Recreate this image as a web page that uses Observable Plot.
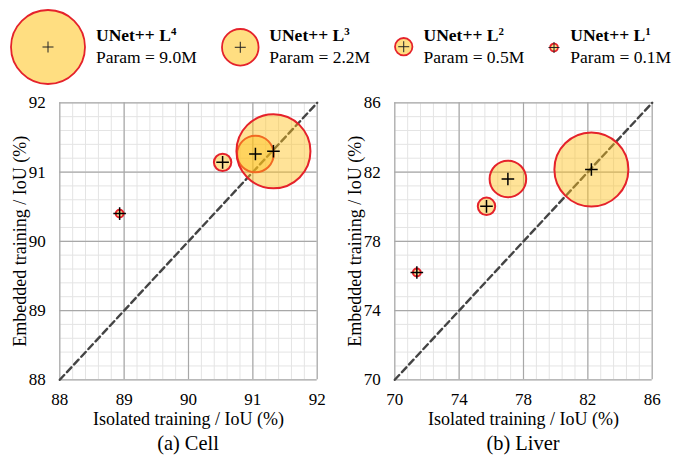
<!DOCTYPE html>
<html><head><meta charset="utf-8">
<script src="https://cdn.jsdelivr.net/npm/d3@7"></script>
<script src="https://cdn.jsdelivr.net/npm/@observablehq/plot@0.6"></script>
<style>
body{margin:0;background:#fff;font-family:"Liberation Serif","Times New Roman",serif;color:#000;overflow:hidden;}
#legend{display:flex;align-items:center;height:87px;padding-top:3px;padding-left:9px;box-sizing:content-box;width:700px;}
.item{display:flex;align-items:center;margin-right:23px;flex-shrink:0;}
.item:last-child{margin-right:0;}
.item svg{display:block;flex-shrink:0;}
.txt{margin-left:10px;font-size:17.5px;line-height:21.6px;white-space:nowrap;flex-shrink:0;}
.txt b sup{font-size:0.62em;vertical-align:0.6em;line-height:0;}
#panels{display:flex;}
.cap{font-size:20.4px;line-height:23px;text-align:center;box-sizing:border-box;}
</style></head><body>
<div id="legend"></div>
<div id="panels"></div>
<script>
// data (legend order)
const models = ["UNet++ L", "UNet++ L", "UNet++ L", "UNet++ L"];
const levels = ["4", "3", "2", "1"];
const params = [9.0, 2.2, 0.5, 0.1];
const paramLabels = ["Param = 9.0M", "Param = 2.2M", "Param = 0.5M", "Param = 0.1M"];
const cellIsolated = [91.32, 91.04, 90.53, 88.93];
const cellEmbedded = [91.30, 91.26, 91.14, 90.40];
const liverIsolated = [82.22, 77.03, 75.70, 71.37];
const liverEmbedded = [82.15, 81.60, 80.02, 76.20];
const cellTicks = [88, 89, 90, 91, 92];
const liverTicks = [70, 74, 78, 82, 86];
const xLabel = "Isolated training / IoU (%)";
const yLabel = "Embedded training / IoU (%)";
const captions = ["(a) Cell", "(b) Liver"];

const FILL = "#FFC21A", FILL_OP = 0.45, RED = "#E5222B";
const rOpts = {type: "sqrt", domain: [0, 9], range: [0, 37]};
const rFn = d3.scaleSqrt().domain(rOpts.domain).range(rOpts.range);
const thinPlus = {draw(ctx, size) {const h = Math.sqrt(size / Math.PI); ctx.moveTo(-h, 0); ctx.lineTo(h, 0); ctx.moveTo(0, -h); ctx.lineTo(0, h);}};
const FONT = "'Liberation Serif', 'Times New Roman', serif";

// legend
const legend = document.getElementById("legend");
params.forEach((p, i) => {
  const r = rFn(p);
  const w = 2 * Math.max(r, 5) + 3;
  const item = document.createElement("div");
  item.className = "item";
  const svg = Plot.plot({
    width: w, height: Math.max(w, 20), margin: 0,
    r: rOpts,
    style: {background: "transparent", overflow: "visible"},
    marks: [
      Plot.dot([p], {r: d => d, frameAnchor: "middle", fill: FILL, fillOpacity: FILL_OP + 0.1, stroke: RED, strokeWidth: 1.8}),
      Plot.dot([p], {r: 5.5, frameAnchor: "middle", symbol: thinPlus, fill: "none", stroke: "#222", strokeWidth: 1})
    ]
  });
  item.appendChild(svg);
  const t = document.createElement("div");
  t.className = "txt";
  t.innerHTML = `<b>${models[i]}<sup>${levels[i]}</sup></b><br>${paramLabels[i]}`;
  item.appendChild(t);
  legend.appendChild(item);
});

function panel(iso, emb, ticks, minorStep, width, mL, mR, caption) {
  const data = params.map((p, i) => ({param: p, x: iso[i], y: emb[i]}));
  const dom = [ticks[0], ticks[ticks.length - 1]];
  const minor = d3.range(dom[0], dom[1] + minorStep / 2, minorStep);
  const MAJ = "#a8a8a8", MIN = "#e4e4e4";
  const fmt = d => String(d);
  const plot = Plot.plot({
    width, height: 342, marginLeft: mL, marginRight: mR, marginTop: 12.3, marginBottom: 52.7,
    style: {fontFamily: FONT, fontSize: "17px", color: "#000", background: "#fff", overflow: "visible"},
    x: {domain: dom},
    y: {domain: dom},
    r: rOpts,
    marks: [
      Plot.gridX(minor, {stroke: MIN, strokeOpacity: 1, strokeWidth: 1}),
      Plot.gridY(minor, {stroke: MIN, strokeOpacity: 1, strokeWidth: 1}),
      Plot.gridX(ticks, {stroke: MAJ, strokeOpacity: 1, strokeWidth: 1.2}),
      Plot.gridY(ticks, {stroke: MAJ, strokeOpacity: 1, strokeWidth: 1.2}),
      Plot.axisX({ticks, tickFormat: fmt, tickSize: 0, tickPadding: 12.8, fontSize: 17, label: null}),
      Plot.axisY({ticks, tickFormat: fmt, tickSize: 0, tickPadding: 14, fontSize: 17, label: null}),
      Plot.axisX({ticks: [], tickSize: 0, fontSize: 18, label: xLabel, labelAnchor: "center", labelOffset: 45, labelArrow: "none"}),
      Plot.axisY({ticks: [], tickSize: 0, fontSize: 18, label: yLabel, labelAnchor: "center", labelOffset: 47, labelArrow: "none"}),
      Plot.line([[dom[0], dom[0]], [dom[1], dom[1]]], {stroke: "#444", strokeWidth: 2.4, strokeDasharray: "6.5,4"}),
      Plot.dot(data, {x: "x", y: "y", r: "param", fill: FILL, fillOpacity: FILL_OP, stroke: RED, strokeWidth: 2, sort: {channel: "r"}}),
      Plot.dot(data, {x: "x", y: "y", r: 6.3, symbol: thinPlus, fill: "none", stroke: "#000", strokeWidth: 1.5})
    ]
  });
  const wrap = document.createElement("div");
  wrap.style.width = width + "px";
  wrap.appendChild(plot);
  const cap = document.createElement("div");
  cap.className = "cap";
  cap.style.paddingLeft = mL + "px";
  cap.style.paddingRight = mR + "px";
  cap.textContent = caption;
  wrap.appendChild(cap);
  return wrap;
}

const panels = document.getElementById("panels");
panels.appendChild(panel(cellIsolated, cellEmbedded, cellTicks, 0.2, 337, 59.3, 20.3, captions[0]));
panels.appendChild(panel(liverIsolated, liverEmbedded, liverTicks, 0.8, 338, 57.3, 23.3, captions[1]));
</script>
</body></html>
